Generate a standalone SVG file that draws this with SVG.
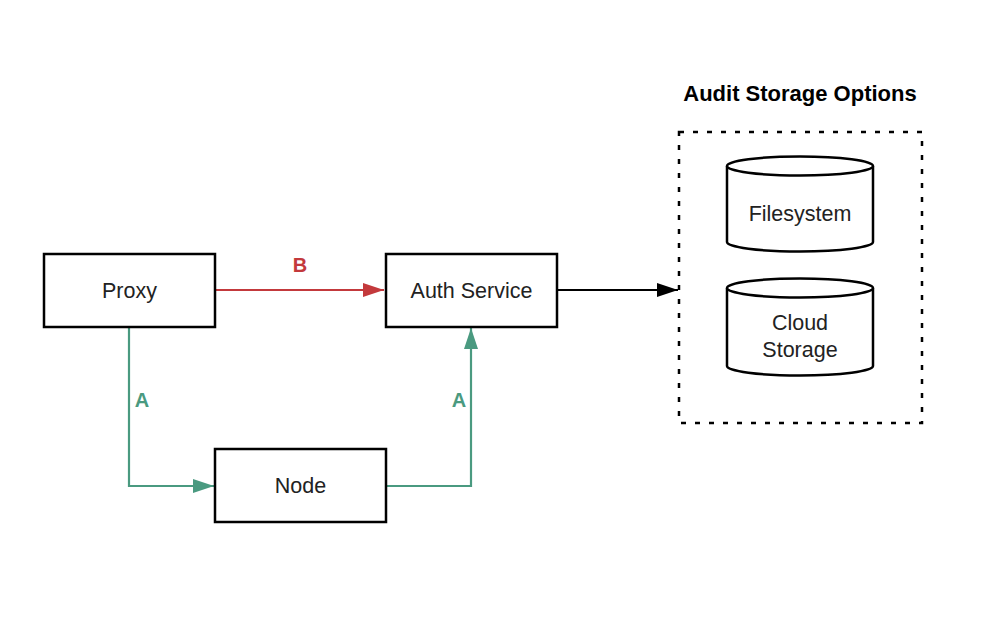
<svg xmlns="http://www.w3.org/2000/svg" width="1000" height="620" viewBox="0 0 1000 620">
<style>
.box{fill:#fff;stroke:#000;stroke-width:2.5}
.lbl{font-family:"Liberation Sans",Arial,sans-serif;font-size:21.5px;fill:#222;text-anchor:middle}
.el{font-family:"Liberation Sans",Arial,sans-serif;font-size:20px;font-weight:bold;text-anchor:middle}
.cyl{fill:#fff;stroke:#000;stroke-width:2.5}
</style>
<defs>
<marker id="ar" markerWidth="21" markerHeight="14" refX="21" refY="7" orient="auto" markerUnits="userSpaceOnUse"><path d="M0,0 L21,7 L0,14 Z" fill="#c3393c"/></marker>
<marker id="ag" markerWidth="21" markerHeight="14" refX="21" refY="7" orient="auto" markerUnits="userSpaceOnUse"><path d="M0,0 L21,7 L0,14 Z" fill="#4a9a80"/></marker>
<marker id="ak" markerWidth="21" markerHeight="14" refX="21" refY="7" orient="auto" markerUnits="userSpaceOnUse"><path d="M0,0 L21,7 L0,14 Z" fill="#000"/></marker>
</defs>
<rect width="1000" height="620" fill="#fff"/>
<g id="connectors" fill="none" stroke-width="2.2">
<path d="M216,290 H384" stroke="#c3393c" marker-end="url(#ar)"/>
<path d="M129,327 V486 H214" stroke="#4a9a80" marker-end="url(#ag)"/>
<path d="M387,486 H471 V328" stroke="#4a9a80" marker-end="url(#ag)"/>
<path d="M557,290 H678" stroke="#000" marker-end="url(#ak)"/>
<text x="300" y="272" class="el" fill="#c3393c" stroke="none">B</text>
<text x="142" y="407" class="el" fill="#4a9a80" stroke="none">A</text>
<text x="459" y="407" class="el" fill="#4a9a80" stroke="none">A</text>
</g>
<g id="proxy"><rect class="box" x="44" y="254" width="171" height="73"/><text class="lbl" x="129.5" y="297.5">Proxy</text></g>
<g id="auth"><rect class="box" x="386" y="254" width="171" height="73"/><text class="lbl" x="471.5" y="297.5">Auth Service</text></g>
<g id="node"><rect class="box" x="215" y="449" width="171" height="73"/><text class="lbl" x="300.5" y="492.5">Node</text></g>
<g id="audit">
<text x="800" y="101" font-family="Liberation Sans,Arial,sans-serif" font-size="22" font-weight="bold" text-anchor="middle" fill="#000">Audit Storage Options</text>
<rect x="679" y="132" width="243" height="291" fill="none" stroke="#000" stroke-width="2.5" stroke-dasharray="5 9"/>
</g>
<g id="filesystem">
<path class="cyl" d="M727,166 V242 A73,9.5 0 0 0 873,242 V166"/>
<ellipse class="cyl" cx="800" cy="166" rx="73" ry="9.5"/>
<text class="lbl" x="800" y="220.5">Filesystem</text>
</g>
<g id="cloud">
<path class="cyl" d="M727,288 V366 A73,9.5 0 0 0 873,366 V288"/>
<ellipse class="cyl" cx="800" cy="288" rx="73" ry="9.5"/>
<text class="lbl" x="800" y="329.5">Cloud</text>
<text class="lbl" x="800" y="356.5">Storage</text>
</g>
</svg>
